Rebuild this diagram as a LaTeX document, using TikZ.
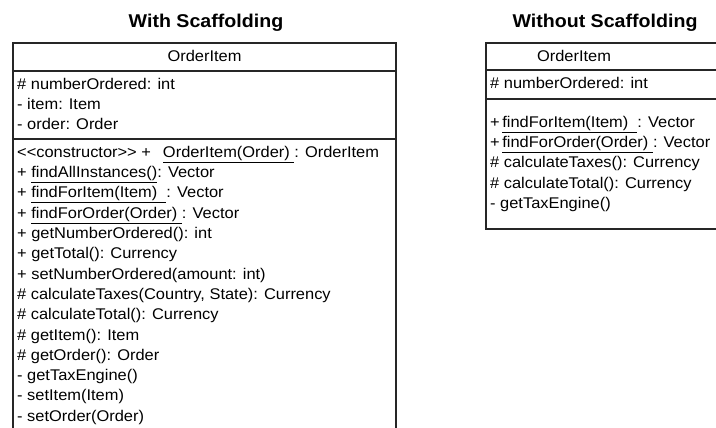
\documentclass[tikz,border=0pt]{standalone}
\usepackage{fontspec}
\newfontfamily\umlfont[FakeStretch=1.06]{Liberation Sans}

\begin{document}
\begin{tikzpicture}[x=1pt,y=-1pt,
    box/.style={line width=1.4pt,draw=black!85},
    title/.style={font=\umlfont\fontsize{18.5}{22}\selectfont\bfseries,anchor=base,inner sep=0pt},
    row/.style={font=\umlfont\fontsize{15.5}{20}\selectfont,anchor=base west,inner sep=0pt},
    head/.style={row,anchor=base}]
    \useasboundingbox (0,0) rectangle (716,428);
    \clip (0,0) rectangle (716,428);

    \node[title] (with) at (206,28) {With Scaffolding};
    \node[title] (without) at (605,28) {Without Scaffolding};

    % class with its scaffolding operations
    \draw[box] (13,432) -- (13,43) -- (396,43) -- (396,432);
    \draw[box] (13,71) -- (396,71);
    \draw[box] (13,139) -- (396,139);
    \node[head] (nameA) at (204.5,62) {OrderItem};
    \foreach \txt [count=\i] in {{\# numberOrdered: int},{- item: Item},{- order: Order}}
        \node[row] (attrA\i) at (17,{70+20*\i}) {\txt};
    \foreach \txt [count=\i] in {
        {<<constructor>> +\hspace{12pt}\underline{OrderItem(Order)\ }: OrderItem},
        {+ \underline{findAllInstances()}: Vector},
        {+ \underline{findForItem(Item)\ \ }: Vector},
        {+ \underline{findForOrder(Order)\ }: Vector},
        {+ getNumberOrdered(): int},
        {+ getTotal(): Currency},
        {+ setNumberOrdered(amount: int)},
        {\# calculateTaxes(Country, State): Currency},
        {\# calculateTotal(): Currency},
        {\# getItem(): Item},
        {\# getOrder(): Order},
        {- getTaxEngine()},
        {- setItem(Item)},
        {- setOrder(Order)}}
        \node[row] (opA\i) at (17,{137+20.3*\i}) {\txt};

    % same class once the scaffolding is removed
    \draw[box] (720,43) -- (486,43) -- (486,229) -- (720,229);
    \draw[box] (486,70) -- (720,70);
    \draw[box] (486,99) -- (720,99);
    \node[head] (nameB) at (574,62) {OrderItem};
    \node[row] (attrB1) at (490,89) {\# numberOrdered: int};
    \foreach \txt [count=\i] in {
        {+\,\underline{findForItem(Item)\ \ }: Vector},
        {+\,\underline{findForOrder(Order)\ }: Vector},
        {\# calculateTaxes(): Currency},
        {\# calculateTotal(): Currency},
        {- getTaxEngine()}}
        \node[row] (opB\i) at (490,{107+20.3*\i}) {\txt};
\end{tikzpicture}
\end{document}
